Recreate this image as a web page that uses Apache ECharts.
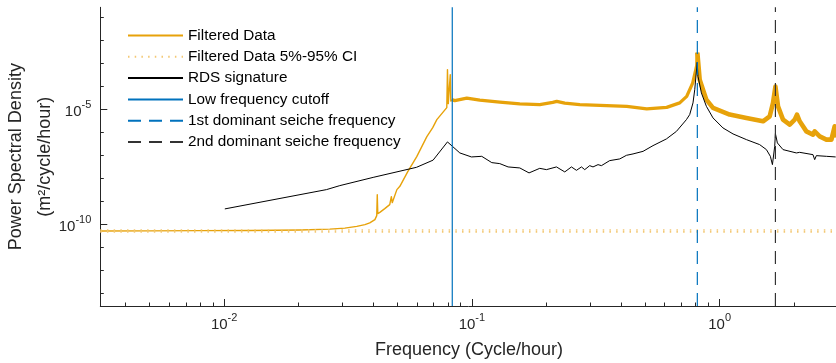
<!DOCTYPE html>
<html>
<head>
<meta charset="utf-8">
<script src="https://cdn.jsdelivr.net/npm/echarts@6/dist/echarts.min.js"></script>
<style>
  html, body { margin: 0; padding: 0; background: #fff; }
  #chart { width: 836px; height: 363px; }
</style>
</head>
<body>
<div id="chart"></div>
<script>
// Filtered water-level spectrum (frequency in cycle/hour, PSD in m^2/cycle/hour)
const filteredFreq = [0.00316, 0.00502, 0.00799, 0.0127, 0.0202, 0.0267, 0.0307, 0.0343, 0.0370, 0.0387,
  0.0406, 0.0413, 0.0415, 0.0417, 0.0425, 0.0445, 0.0466, 0.0473, 0.0477, 0.0498,
  0.0512, 0.0551, 0.0599, 0.0658, 0.0695, 0.0722, 0.0792, 0.0797, 0.0803, 0.0814,
  0.0818, 0.0822, 0.0830, 0.0853, 0.0954, 0.1076, 0.1296, 0.1561, 0.1879, 0.2121,
  0.2201, 0.2371, 0.2725, 0.3502, 0.4218, 0.5079, 0.6115, 0.6902, 0.7366, 0.7791,
  0.8084, 0.813, 0.831, 0.857, 0.884, 0.9405, 1.098, 1.283, 1.497, 1.593,
  1.643, 1.680, 1.721, 1.803, 1.919, 2.010, 2.053, 2.105, 2.240, 2.382,
  2.420, 2.535, 2.698, 2.827, 2.914, 2.97];
const filteredPsd = [5.16e-11, 5.21e-11, 5.32e-11, 5.43e-11, 5.71e-11, 6.18e-11, 6.84e-11, 8.18e-11, 9.70e-11, 1.15e-10,
  1.60e-10, 2.39e-10, 1.95e-9, 2.92e-10, 3.33e-10, 4.82e-10, 7.19e-10, 1.60e-9, 8.77e-10, 3.23e-9,
  4.49e-9, 1.95e-8, 8.77e-8, 6.50e-7, 1.60e-6, 3.56e-6, 1.19e-5, 5.32e-4, 1.77e-5, 2.16e-5,
  3.23e-4, 2.3e-5, 2.64e-5, 2.39e-5, 3.07e-5, 2.51e-5, 2.06e-5, 1.72e-5, 1.60e-5, 2.01e-5,
  2.23e-5, 1.86e-5, 1.60e-5, 1.45e-5, 1.35e-5, 1.04e-5, 1.22e-5, 1.90e-5, 3.67e-5, 1.41e-4,
  7.94e-4, 2.92e-3, 1.95e-4, 7.19e-5, 2.64e-5, 1.15e-5, 5.89e-6, 4.23e-6, 3.01e-6, 4.97e-6,
  1.90e-5, 9.70e-5, 1.35e-5, 3.56e-6, 2.16e-6, 3.56e-6, 5.89e-6, 3.01e-6, 1.10e-6, 7.94e-7,
  1.10e-6, 6.70e-7, 4.82e-7, 4.82e-7, 1.82e-6, 6.0e-7];

// 5% / 95% confidence bounds of the filtered spectrum
const ciFreq = [0.00316, 3];
const ciLower = [4.68e-11, 4.68e-11];
const ciUpper = [5.71e-11, 5.71e-11];

// RDS signature
const rdsFreq = [0.01006, 0.02588, 0.0293, 0.03994, 0.05976, 0.06973, 0.07969, 0.0894, 0.0996, 0.1096,
  0.1203, 0.1296, 0.1400, 0.1561, 0.1701, 0.1879, 0.2000, 0.2195, 0.2371, 0.2523,
  0.2643, 0.2769, 0.2855, 0.2990, 0.3083, 0.3230, 0.3334, 0.3600, 0.3953, 0.4206,
  0.4472, 0.4909, 0.5385, 0.6099, 0.6694, 0.7345, 0.7573, 0.7808, 0.7936, 0.812,
  0.818, 0.8443, 0.8844, 0.9405, 1.032, 1.133, 1.283, 1.451, 1.545, 1.603,
  1.634, 1.658, 1.669, 1.680, 1.711, 1.803, 2.041, 2.105, 2.382, 2.420,
  2.458, 2.698, 2.941];
const rdsPsd = [4.68e-10, 3.23e-9, 4.82e-9, 1.10e-8, 3.01e-8, 6.18e-8, 3.83e-7, 1.27e-7, 8.51e-8, 9.06e-8,
  4.82e-8, 4.36e-8, 3.13e-8, 2.83e-8, 1.72e-8, 2.72e-8, 2.39e-8, 3.13e-8, 1.90e-8, 3.13e-8,
  2.23e-8, 3.13e-8, 2.39e-8, 3.56e-8, 3.13e-8, 3.94e-8, 3.56e-8, 5.89e-8, 6.97e-8, 1.00e-7,
  1.15e-7, 1.49e-7, 2.64e-7, 5.16e-7, 1.10e-6, 3.56e-6, 5.89e-6, 1.90e-5, 7.19e-5, 1.1e-3,
  2.72e-4, 5.16e-5, 1.35e-5, 4.23e-6, 1.55e-6, 8.51e-7, 4.82e-7, 2.92e-7, 1.77e-7, 9.06e-8,
  3.94e-8, 3.56e-8, 2.46e-7, 8.77e-7, 3.46e-7, 1.77e-7, 1.27e-7, 1.35e-7, 1.07e-7, 6.50e-8,
  9.70e-8, 9.06e-8, 8.51e-8];

// Reference frequencies (cycle/hour)
const cutoffFreq = 1 / 12;
const seiche1Freq = 0.813;
const seiche2Freq = 1.68;

// Axis limits and ticks
const xLimits = [Math.pow(10, -2.5), 3];
const yLimits = [Math.pow(10, -13.55), Math.pow(10, -0.565)];
const xMajorTicks = [0.01, 0.1, 1];
const xMinorTicks = [0.004, 0.005, 0.006, 0.007, 0.008, 0.009,
  0.02, 0.03, 0.04, 0.05, 0.06, 0.07, 0.08, 0.09,
  0.2, 0.3, 0.4, 0.5, 0.6, 0.7, 0.8, 0.9, 2, 3];
const yMajorTicks = [1e-10, 1e-5];
const yMinorTicks = [1e-13, 1e-12, 1e-11, 1e-9, 1e-8, 1e-7, 1e-6, 1e-4, 1e-3, 1e-2, 1e-1];

const FONT = '"Liberation Sans", Arial, Helvetica, sans-serif';
const AXIS_COLOR = '#262626';
const ORANGE = '#E7A20A';
const BLUE = '#0072BD';

const zip = (xs, ys) => xs.map((x, i) => [x, ys[i]]);
const vertical = f => [[f, yLimits[0]], [f, yLimits[1]]];

// The spectrum is drawn thin below the cutoff and as a wider noisy band above it,
// widening again past the first seiche peak where the scatter grows.
const filteredPoints = zip(filteredFreq, filteredPsd);
const cutIndex = filteredFreq.filter(f => f <= cutoffFreq).length - 1;
const peakIndex = filteredFreq.filter(f => f <= seiche1Freq).length - 1;
const filteredLow = filteredPoints.slice(0, cutIndex + 1);
const filteredMid = filteredPoints.slice(cutIndex, peakIndex + 1);
const filteredHigh = filteredPoints.slice(peakIndex);

function powerLabel(v) {
  const n = Math.round(Math.log10(v));
  return '{b|10}{s|' + n + '}';
}
const labelRich = {
  b: { fontSize: 15, lineHeight: 20, verticalAlign: 'bottom', color: AXIS_COLOR, fontFamily: FONT },
  s: { fontSize: 11, lineHeight: 11, verticalAlign: 'top', color: AXIS_COLOR, fontFamily: FONT }
};

function lineSeries(name, data, color, width, type) {
  return {
    name: name,
    type: 'line',
    data: data,
    symbol: 'none',
    showSymbol: false,
    silent: true,
    clip: true,
    xAxisIndex: 0,
    yAxisIndex: 0,
    lineStyle: { color: color, width: width, type: type, join: 'round' },
    itemStyle: { color: color }
  };
}

const chart = echarts.init(document.getElementById('chart'), null, { renderer: 'canvas' });

chart.setOption({
  animation: false,
  backgroundColor: '#ffffff',
  grid: { left: 100.3, top: 7.3, width: 737.5, height: 298.7, containLabel: false, outerBoundsMode: 'none' },
  legend: {
    left: 127,
    top: 28,
    padding: 0,
    orient: 'vertical',
    itemWidth: 55,
    itemHeight: 14,
    itemGap: 6.3,
    itemStyle: { opacity: 0 },
    textStyle: { fontFamily: FONT, fontSize: 15.3, color: '#000', lineHeight: 14 },
    selectedMode: false,
    data: ['Filtered Data', 'Filtered Data 5%-95% CI', 'RDS signature', 'Low frequency cutoff',
      '1st dominant seiche frequency', '2nd dominant seiche frequency']
  },
  xAxis: [
    {
      type: 'log', logBase: 10, min: xLimits[0], max: xLimits[1],
      name: 'Frequency (Cycle/hour)', nameLocation: 'middle', nameGap: 35.5, nameMoveOverlap: false,
      nameTextStyle: { fontFamily: FONT, fontSize: 18, color: AXIS_COLOR },
      axisLine: { show: true, lineStyle: { color: AXIS_COLOR, width: 1 } },
      axisTick: { show: true, inside: true, length: 7, customValues: xMajorTicks, lineStyle: { color: AXIS_COLOR } },
      axisLabel: { show: true, margin: 6, customValues: xMajorTicks, formatter: powerLabel, rich: labelRich },
      splitLine: { show: false }, minorTick: { show: false }
    },
    {
      type: 'log', logBase: 10, min: xLimits[0], max: xLimits[1], position: 'bottom',
      axisLine: { show: false },
      axisTick: { show: true, inside: true, length: 3.5, customValues: xMinorTicks, lineStyle: { color: AXIS_COLOR } },
      axisLabel: { show: false },
      splitLine: { show: false }
    }
  ],
  yAxis: [
    {
      type: 'log', logBase: 10, min: yLimits[0], max: yLimits[1],
      name: 'Power Spectral Density\n(m²/cycle/hour)',
      nameLocation: 'middle', nameRotate: 90, nameGap: 41, nameMoveOverlap: false,
      nameTextStyle: { fontFamily: FONT, fontSize: 18, color: AXIS_COLOR, lineHeight: 29 },
      axisLine: { show: true, lineStyle: { color: AXIS_COLOR, width: 1 } },
      axisTick: { show: true, inside: true, length: 7, customValues: yMajorTicks, lineStyle: { color: AXIS_COLOR } },
      axisLabel: { show: true, margin: 9, customValues: yMajorTicks, formatter: powerLabel, rich: labelRich },
      splitLine: { show: false }, minorTick: { show: false }
    },
    {
      type: 'log', logBase: 10, min: yLimits[0], max: yLimits[1], position: 'left',
      axisLine: { show: false },
      axisTick: { show: true, inside: true, length: 3.5, customValues: yMinorTicks, lineStyle: { color: AXIS_COLOR } },
      axisLabel: { show: false },
      splitLine: { show: false }
    }
  ],
  series: [
    lineSeries('Filtered Data', filteredLow, ORANGE, 1.4, 'solid'),
    lineSeries('Filtered Data', filteredMid, ORANGE, 3.3, 'solid'),
    lineSeries('Filtered Data', filteredHigh, ORANGE, 4.6, 'solid'),
    lineSeries('Filtered Data 5%-95% CI', zip(ciFreq, ciUpper), '#F3C874', 1.6, [1.5, 5.2]),
    lineSeries('Filtered Data 5%-95% CI', zip(ciFreq, ciLower), '#F3C874', 1.6, [1.5, 5.2]),
    lineSeries('RDS signature', zip(rdsFreq, rdsPsd), '#000000', 1, 'solid'),
    lineSeries('Low frequency cutoff', vertical(cutoffFreq), BLUE, 1.2, 'solid'),
    lineSeries('1st dominant seiche frequency', vertical(seiche1Freq), BLUE, 1.2, [13, 8]),
    lineSeries('2nd dominant seiche frequency', vertical(seiche2Freq), '#333333', 1.2, [13, 8])
  ]
});
</script>
</body>
</html>
